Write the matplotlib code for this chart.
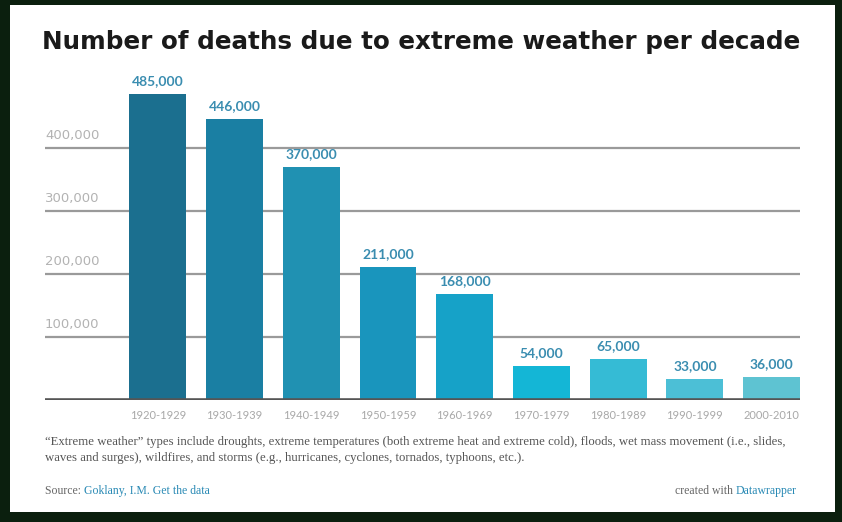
import matplotlib
matplotlib.use("Agg")
import matplotlib.pyplot as plt
from matplotlib.patches import Rectangle

decades = ["1920-1929", "1930-1939", "1940-1949", "1950-1959", "1960-1969",
           "1970-1979", "1980-1989", "1990-1999", "2000-2010"]
deaths = [485000, 446000, 370000, 211000, 168000, 54000, 65000, 33000, 36000]
bar_colors = ["#1b6f8f", "#1a7fa3", "#2091b2", "#1995bd", "#16a2c8",
              "#14b6d6", "#35bbd5", "#4cbfd6", "#5ec3d2"]
y_ticks = [100000, 200000, 300000, 400000]

W, H = 842, 522
fig = plt.figure(figsize=(W / 100, H / 100), dpi=100)
fig.patch.set_facecolor("#0b1f0e")
fig.add_artist(Rectangle((10 / W, 1 - 512 / H), 825 / W, 507 / H,
                         transform=fig.transFigure, facecolor="white",
                         edgecolor="none", zorder=0))

ax = fig.add_axes([45 / W, (H - 400) / H, 755 / W, 327.6 / H])
ax.set_facecolor("none")
x = list(range(len(decades)))
ax.bar(x, deaths, width=0.74, color=bar_colors, zorder=3)
ax.set_xlim(-1.47, 8.37)
ax.set_ylim(0, 520000)

for t in y_ticks:
    ax.axhline(t, color="#9a9a9a", lw=1.6, zorder=1)
    ax.text(-1.47, t + 9000, f"{t:,}", ha="left", va="bottom",
            fontsize=9.5, color="#b3b3b3", family="DejaVu Sans")
ax.axhline(0, color="#555555", lw=2.6, zorder=4)

for xi, v in zip(x, deaths):
    ax.text(xi, v + 11000, f"{v:,}", ha="center", va="bottom", fontsize=10,
            color="#3a8db0", family="Lato", fontweight="bold", zorder=5)

ax.set_xticks(x)
ax.set_xticklabels(decades, family="Lato", fontsize=8, color="#a8a8a8")
ax.tick_params(axis="x", length=0, pad=7)
ax.set_yticks([])
for s in ax.spines.values():
    s.set_visible(False)

fig.text(421 / W, 1 - 42 / H, "Number of deaths due to extreme weather per decade",
         ha="center", va="center", fontsize=17.7, fontweight="bold",
         family="DejaVu Sans", color="#1a1a1a")

note = ("\u201cExtreme weather\u201d types include droughts, extreme temperatures (both extreme heat and extreme cold), floods, wet mass movement (i.e., slides,\n"
        "waves and surges), wildfires, and storms (e.g., hurricanes, cyclones, tornados, typhoons, etc.).")
fig.text(45 / W, 1 - 436 / H, note, ha="left", va="top", fontsize=9.2,
         family="Liberation Serif", color="#555555", linespacing=1.5)

src = fig.text(45 / W, 1 - 491 / H, "Source: ", ha="left", va="center", fontsize=8.5,
               family="Liberation Serif", color="#666666")
ax.annotate("Goklany, I.M. Get the data", xy=(1, 0.5), xycoords=src,
            ha="left", va="center", fontsize=8.5, family="Liberation Serif",
            color="#2a8ab5", annotation_clip=False)
dw = fig.text(797 / W, 1 - 491 / H, "Datawrapper", ha="right", va="center",
              fontsize=8.5, family="Liberation Serif", color="#2a8ab5")
ax.annotate("created with ", xy=(0, 0.5), xycoords=dw, ha="right", va="center",
            fontsize=8.5, family="Liberation Serif", color="#666666",
            annotation_clip=False)

fig.savefig("out.png", dpi=100, facecolor=fig.get_facecolor())
